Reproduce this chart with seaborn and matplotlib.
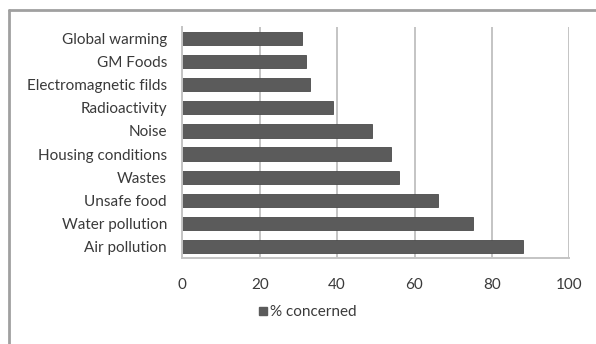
import matplotlib
matplotlib.use("Agg")
import matplotlib.pyplot as plt
import seaborn as sns
import pandas as pd
from matplotlib.lines import Line2D
from matplotlib.patches import Patch

categories = ["Global warming", "GM Foods", "Electromagnetic filds", "Radioactivity",
              "Noise", "Housing conditions", "Wastes", "Unsafe food",
              "Water pollution", "Air pollution"]
values = [31, 32, 33, 39, 49, 54, 56, 66, 75, 88]
series_name = "% concerned"
xticks = [0, 20, 40, 60, 80, 100]

df = pd.DataFrame({"category": categories, "value": values})

sns.set_theme(style="white")
plt.rcParams['font.family'] = ['Lato', 'DejaVu Sans']

fig = plt.figure(figsize=(5.96, 3.44), dpi=100)
ax = fig.add_axes([182.3 / 596, 1 - 258 / 344, (569.3 - 182.3) / 596, 231 / 344])

bar_color = "#5b5b5b"
sns.barplot(data=df, x="value", y="category", order=categories, color=bar_color,
            orient="h", width=0.57, edgecolor="#4a4a4a", linewidth=0.6,
            saturation=1, ax=ax)

ax.set_xlim(0, 100)
ax.set_xticks(xticks)
ax.set_xticklabels([str(t) for t in xticks])
ax.set_xlabel("")
ax.set_ylabel("")
ax.grid(axis="x", color="#c4c4c4", linewidth=1.4)
ax.grid(axis="y", visible=False)
ax.set_axisbelow(True)
for s in ["top", "right"]:
    ax.spines[s].set_visible(False)
ax.spines["left"].set_color("#c4c4c4")
ax.spines["left"].set_linewidth(1.4)
ax.spines["bottom"].set_color("#c4c4c4")
ax.spines["bottom"].set_linewidth(1.4)
ax.tick_params(axis="x", length=0, pad=14.5, labelsize=11, labelcolor="#3a3a3a")
ax.tick_params(axis="y", length=0, pad=11, labelsize=11, labelcolor="#3a3a3a")

handle = Patch(facecolor=bar_color, edgecolor=bar_color)
fig.legend([handle], [series_name], loc="center", bbox_to_anchor=(308 / 596, 1 - 312.5 / 344),
           frameon=False, fontsize=11, handlelength=0.5, handleheight=0.5,
           handletextpad=0.25, labelcolor="#3a3a3a")

# outer chart frame (top and left visible)
fig.add_artist(Line2D([9 / 596, 1.0], [1 - 10 / 344, 1 - 10 / 344], transform=fig.transFigure,
                      color="#a0a0a0", linewidth=2))
fig.add_artist(Line2D([9 / 596, 9 / 596], [0.0, 1 - 10 / 344], transform=fig.transFigure,
                      color="#a0a0a0", linewidth=2))

fig.savefig("out.png", dpi=100)
